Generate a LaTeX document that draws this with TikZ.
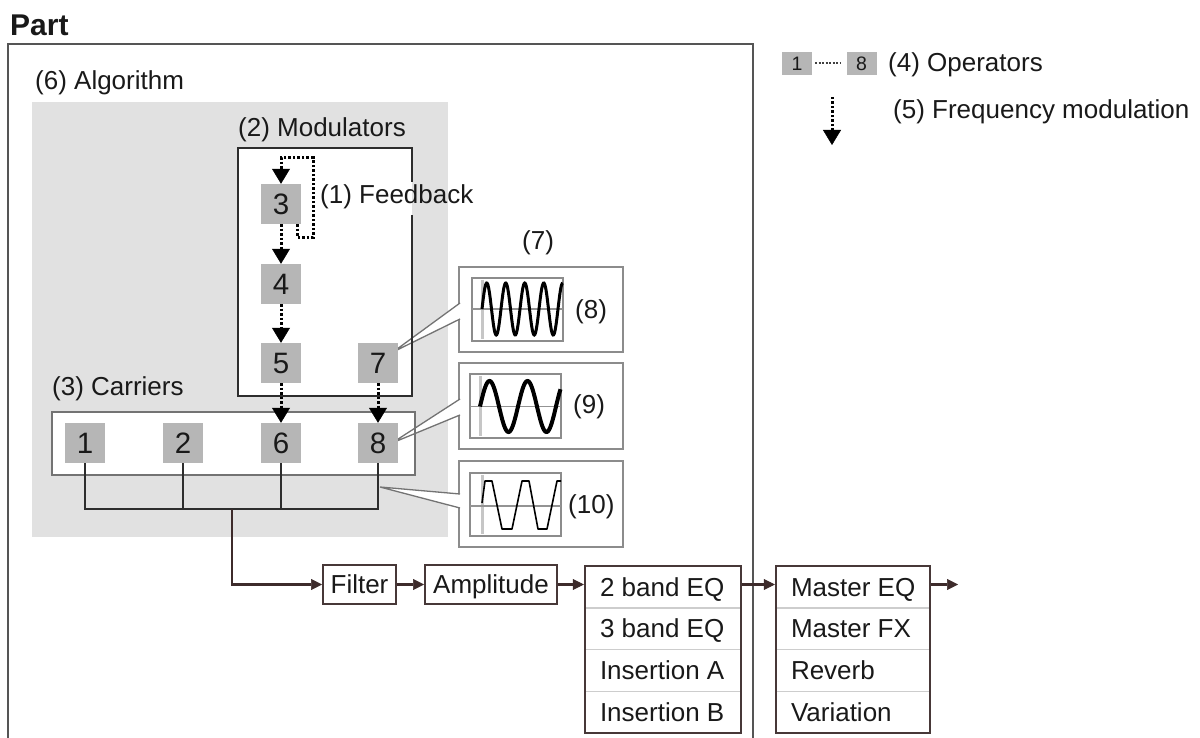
\documentclass[tikz,border=0pt]{standalone}
\usepackage{fontspec}
\setmainfont{Liberation Sans}
\usetikzlibrary{arrows.meta,fit}
\definecolor{algbg}{RGB}{225,225,225}
\definecolor{opgray}{RGB}{182,182,182}
\definecolor{chainc}{RGB}{61,43,43}
\definecolor{framec}{RGB}{85,85,85}
\definecolor{boxc}{RGB}{45,45,45}
\definecolor{carc}{RGB}{115,115,115}
\definecolor{wavec}{RGB}{140,140,140}
\definecolor{sepc}{RGB}{205,205,205}
\definecolor{txtc}{RGB}{25,25,25}
\begin{document}
\begin{tikzpicture}[x=1pt,y=-1pt,
  lbl/.style={anchor=base west, inner sep=0pt, text=txtc, font=\fontsize{26}{31}\selectfont},
  op/.style={fill=opgray, minimum width=40pt, minimum height=40pt, inner sep=0pt, text=txtc, font=\fontsize{29.5}{30}\selectfont},
  lop/.style={fill=opgray, minimum width=30pt, minimum height=23pt, inner sep=0pt, text=txtc, font=\fontsize{19.5}{20}\selectfont},
  fm/.style={line width=3pt, dash pattern=on 2.5pt off 2pt, -{Triangle[width=18pt,length=15pt,line width=0.5pt]}},
  chain/.style={draw=chainc, line width=2.5pt, -{Triangle[width=11pt,length=11pt,line width=0.5pt]}},
  cbox/.style={draw=chainc!85!gray, line width=2pt, fill=white, inner sep=0pt, minimum height=39pt, text=txtc, text height=18.6pt, text depth=0pt, font=\fontsize{26}{31}\selectfont},
  rowbox/.style={minimum height=41.75pt, inner sep=0pt},
  rowtxt/.style={anchor=west, inner sep=0pt, text=txtc, text height=18.6pt, text depth=0pt, font=\fontsize{26}{31}\selectfont},
  wbox/.style={draw=wavec, line width=1.5pt, fill=white},
  wedge/.style={draw=carc, line width=1.3pt},
  bus/.style={draw=boxc, line width=1.8pt},
  waxh/.style={draw=gray!85, line width=1.5pt},
  waxv/.style={draw=gray!45, line width=3pt}
]
\useasboundingbox (0,0) rectangle (1200,738);

% Part frame
\node[anchor=base west, inner sep=0pt, text=txtc, font=\fontsize{30}{34}\selectfont\bfseries] (part) at (10,36) {Part};
\draw[draw=framec, line width=2pt] (8,760) |- (753,44) -- (753,760);

% Algorithm background
\fill[algbg] (32,102) rectangle (448,537);
\fill[white] (238,148) rectangle (412,396);
\fill[white] (52,412) rectangle (415,475);

% waveform boxes
\draw[wbox] (459,267) rectangle (623,352);
\draw[wbox] (459,363) rectangle (623,449);
\draw[wbox] (459,461) rectangle (623,547);

% wedges
\fill[white] (393,352) -- (460.5,303) -- (460.5,319) -- cycle;
\draw[wedge] (460,303) -- (393,352) -- (460,319);
\fill[white] (392,443) -- (460.5,399) -- (460.5,415) -- cycle;
\draw[wedge] (460,399) -- (392,443) -- (460,415);
\fill[white] (380,487) -- (460.5,494) -- (460.5,508) -- cycle;
\draw[wedge] (460,494) -- (380,487) -- (460,508);

% modulators and carriers borders (modulators border broken behind the Feedback label)
\draw[draw=boxc, line width=2pt] (412,182) -- (412,148) -- (238,148) -- (238,396) -- (412,396) -- (412,215);
\draw[draw=carc, line width=2pt] (52,412) rectangle (415,475);

% labels
\node[lbl] (alg) at (35,90) {(6) Algorithm};
\node[lbl] (modl) at (238,137) {(2) Modulators};
\node[lbl] (fbl) at (320,204) {(1) Feedback};
\node[lbl] (carl) at (52,395) {(3) Carriers};
\node[lbl] (l7) at (522,250) {(7)};
\node[lbl] (l8) at (575,318) {(8)};
\node[lbl] (l9) at (573,413) {(9)};
\node[lbl] (l10) at (568,513) {(10)};

% operators
\node[op] (o3) at (281,204) {3};
\node[op] (o4) at (281,284) {4};
\node[op] (o5) at (281,363) {5};
\node[op] (o7) at (378,363) {7};
\node[op] (o1) at (85,443) {1};
\node[op] (o2) at (183,443) {2};
\node[op] (o6) at (281,443) {6};
\node[op] (o8) at (378,443) {8};

% FM arrows
\coordinate (fbtop) at (0,158);
\draw[fm] ([xshift=-4pt]o3.south east) -- ++(0,13) -- ++(16,0) |- (o3.north |- fbtop) -- (o3.north);
\draw[fm] (o3.south) -- (o4.north);
\draw[fm] (o4.south) -- (o5.north);
\draw[fm] (o5.south) -- (o6.north);
\draw[fm] (o7.south) -- (o8.north);

% bus
\coordinate (busy) at (0,509);
\coordinate (busout) at (232,509);
\draw[bus] (o1.south) |- (o8.south |- busy) -- (o8.south);
\draw[bus] (o2.south) -- (o2.south |- busy);
\draw[bus] (o6.south) -- (o6.south |- busy);

% waveforms
\draw[wbox, draw=gray!90] (472,278) rectangle (563,341);
\draw[waxv] (482,280) -- (482,339);
\draw[waxh] (472,309) -- (563,309);
\draw[line width=3pt, black] plot[domain=0:80.75, samples=160] ({482+\x},{309-26*sin(\x/19*360)});

\draw[wbox, draw=gray!90] (470,374) rectangle (561,438);
\draw[waxv] (480,376) -- (480,436);
\draw[waxh] (470,406.5) -- (561,406.5);
\draw[line width=4pt, black] plot[domain=0:80.5, samples=120] ({480+\x},{406.5-25.5*sin(\x/38*360)});

\draw[wbox, draw=gray!90] (470,473) rectangle (561,536);
\draw[waxv] (482,475) -- (482,534);
\draw[waxh] (470,506) -- (561,506);
\draw[line width=1.6pt, black, line join=round] (482,503) -- (485,481) -- (492,481) -- (502,529) -- (512,529) -- (522,481) -- (529,481) -- (538,529) -- (547,529) -- (557,481) -- (561,481);

% chain
\node[cbox, minimum width=73pt] (filter) at (359.5,584.5) {Filter};
\node[cbox, minimum width=132pt] (amp) at (491,584.5) {Amplitude};

\node[rowbox, minimum width=156pt] (e1) at (663,586.875) {};
\node[rowbox, minimum width=156pt] (e2) at (663,628.625) {};
\node[rowbox, minimum width=156pt] (e3) at (663,670.375) {};
\node[rowbox, minimum width=156pt] (e4) at (663,712.125) {};
\node[rowtxt] (e1t) at ([xshift=15pt]e1.west) {2 band EQ};
\node[rowtxt] (e2t) at ([xshift=15pt]e2.west) {3 band EQ};
\node[rowtxt] (e3t) at ([xshift=15pt]e3.west) {Insertion A};
\node[rowtxt] (e4t) at ([xshift=15pt]e4.west) {Insertion B};
\draw[draw=sepc, line width=1.3pt] (e1.south west) -- (e1.south east);
\draw[draw=sepc, line width=1.3pt] (e2.south west) -- (e2.south east);
\draw[draw=sepc, line width=1.3pt] (e3.south west) -- (e3.south east);
\node[draw=chainc!85!gray, line width=2pt, fit=(e1)(e4), inner sep=0pt] (eq) {};

\node[rowbox, minimum width=154pt] (m1) at (853,586.875) {};
\node[rowbox, minimum width=154pt] (m2) at (853,628.625) {};
\node[rowbox, minimum width=154pt] (m3) at (853,670.375) {};
\node[rowbox, minimum width=154pt] (m4) at (853,712.125) {};
\node[rowtxt] (m1t) at ([xshift=15pt]m1.west) {Master EQ};
\node[rowtxt] (m2t) at ([xshift=15pt]m2.west) {Master FX};
\node[rowtxt] (m3t) at ([xshift=15pt]m3.west) {Reverb};
\node[rowtxt] (m4t) at ([xshift=15pt]m4.west) {Variation};
\draw[draw=sepc, line width=1.3pt] (m1.south west) -- (m1.south east);
\draw[draw=sepc, line width=1.3pt] (m2.south west) -- (m2.south east);
\draw[draw=sepc, line width=1.3pt] (m3.south west) -- (m3.south east);
\node[draw=chainc!85!gray, line width=2pt, fit=(m1)(m4), inner sep=0pt] (mst) {};

\coordinate (outp) at (958,584.5);
\draw[chain] (busout) |- (filter.west);
\draw[chain] (filter.east) -- (amp.west);
\draw[chain] (amp.east) -- (amp.east -| eq.west);
\draw[chain] (amp.east -| eq.east) -- (amp.east -| mst.west);
\draw[chain] (amp.east -| mst.east) -- (outp);

% legend
\node[lop] (lg1) at (797,63.5) {1};
\node[lop] (lg8) at (861.5,63.5) {8};
\draw[line width=2pt, black!75, dash pattern=on 2pt off 1.5pt, shorten <=3pt, shorten >=6pt] (lg1.east) -- (lg8.west);
\node[lbl] (opl) at (888,72) {(4) Operators};
\coordinate (la1) at (832,97);
\coordinate (la2) at (832,145);
\draw[fm] (la1) -- (la2);
\node[lbl] (fml) at (893,119) {(5) Frequency modulation};
\end{tikzpicture}
\end{document}
